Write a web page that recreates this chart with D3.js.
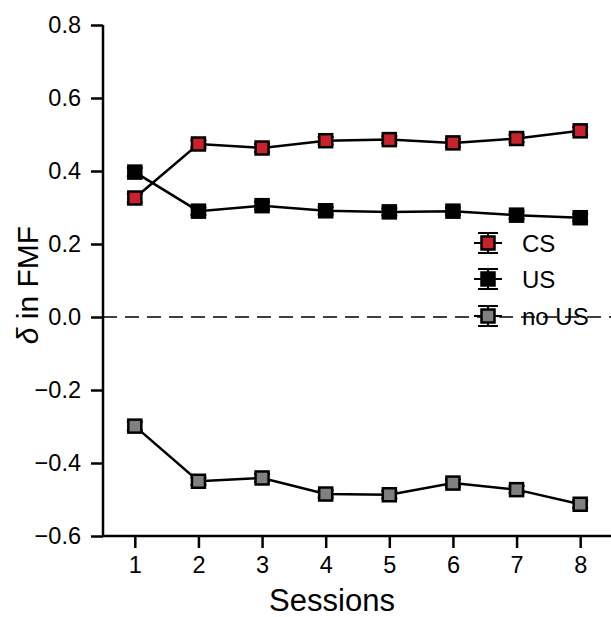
<!DOCTYPE html>
<html><head><meta charset="utf-8">
<script src="https://cdn.jsdelivr.net/npm/d3@7"></script>
<style>body{margin:0;background:#fff}svg{display:block;font-family:"Liberation Sans",Arial,sans-serif}</style>
</head><body>
<script>
const sessions = [1,2,3,4,5,6,7,8];
const csValues = [0.326,0.474,0.463,0.483,0.486,0.477,0.489,0.510];
const usValues = [0.397,0.290,0.305,0.291,0.288,0.290,0.279,0.272];
const noUsValues = [-0.299,-0.450,-0.441,-0.485,-0.487,-0.455,-0.473,-0.513];
const errValues = [0.012,0.010,0.011,0.010,0.010,0.010,0.010,0.010];
const yTicks = [0.8,0.6,0.4,0.2,0.0,-0.2,-0.4,-0.6];
const seriesNames = ["CS","US","no US"];
const seriesColors = ["#c8232c","#000000","#808080"];

const W=611,H=617;
const svg=d3.select("body").append("svg").attr("width",W).attr("height",H);
const x=d3.scaleLinear().domain([0.5,8.5]).range([103,612]);
const y=d3.scaleLinear().domain([-0.6,0.8]).range([536,25]);

// zero line
svg.append("line").attr("x1",103).attr("x2",611).attr("y1",y(0)).attr("y2",y(0))
  .attr("stroke","#000").attr("stroke-width",1.3).attr("stroke-dasharray","14,8");

// axes
const yAxis=d3.axisLeft(y).tickValues(yTicks).tickSize(12).tickPadding(10)
  .tickFormat(d=>d3.format(".1f")(d).replace("-","\u2212"));
const gy=svg.append("g").attr("transform","translate(103,0)").call(yAxis);
const xAxis=d3.axisBottom(x).tickValues(sessions).tickSize(12).tickPadding(8).tickFormat(d3.format("d"));
const gx=svg.append("g").attr("transform","translate(0,536)").call(xAxis);
[gx,gy].forEach(g=>{
  g.attr("font-size",23.5).attr("font-family","Liberation Sans, Arial, sans-serif");
  g.select(".domain").remove();
  g.selectAll(".tick line").attr("stroke","#000").attr("stroke-width",2.5);
  g.selectAll(".tick text").attr("fill","#000");
});
svg.append("line").attr("x1",103).attr("x2",103).attr("y1",25).attr("y2",537).attr("stroke","#000").attr("stroke-width",2.5);
svg.append("line").attr("x1",102).attr("x2",611).attr("y1",536).attr("y2",536).attr("stroke","#000").attr("stroke-width",2.5);

// labels
svg.append("text").attr("x",332).attr("y",611).attr("text-anchor","middle").attr("font-size",31).text("Sessions");
const yl=svg.append("text").attr("transform","translate(38,285) rotate(-90)").attr("text-anchor","middle").attr("font-size",30);
yl.append("tspan").attr("font-style","italic").text("\u03b4");
yl.append("tspan").text(" in FMF");

const allSeries=[csValues,usValues,noUsValues];
const line=d3.line().x((d,i)=>x(sessions[i])).y(d=>y(d));
allSeries.forEach((vals,si)=>{
  svg.append("path").attr("d",line(vals)).attr("fill","none").attr("stroke","#000").attr("stroke-width",2.5);
});
function marker(g,cx,cy,col,ey,cw){
  g.append("line").attr("x1",cx).attr("x2",cx).attr("y1",cy-ey).attr("y2",cy+ey).attr("stroke","#000").attr("stroke-width",2);
  [cy-ey,cy+ey].forEach(yy=>g.append("line").attr("x1",cx-cw).attr("x2",cx+cw).attr("y1",yy).attr("y2",yy).attr("stroke","#000").attr("stroke-width",2));
  g.append("rect").attr("x",cx-6.5).attr("y",cy-6.5).attr("width",13).attr("height",13).attr("fill",col).attr("stroke","#000").attr("stroke-width",2.5);
}
allSeries.forEach((vals,si)=>{
  const g=svg.append("g");
  vals.forEach((v,i)=>marker(g,x(sessions[i]),y(v),seriesColors[si],Math.abs(y(v+errValues[i])-y(v)),8));
});

// legend
const legY=[243,279,316];
seriesNames.forEach((n,i)=>{
  const g=svg.append("g");
  g.append("line").attr("x1",474).attr("x2",502).attr("y1",legY[i]).attr("y2",legY[i]).attr("stroke","#000").attr("stroke-width",2);
  marker(g,488,legY[i],seriesColors[i],10,10);
  g.append("text").attr("x",522).attr("y",legY[i]+9).attr("font-size",24).text(n);
});
</script>
</body></html>
